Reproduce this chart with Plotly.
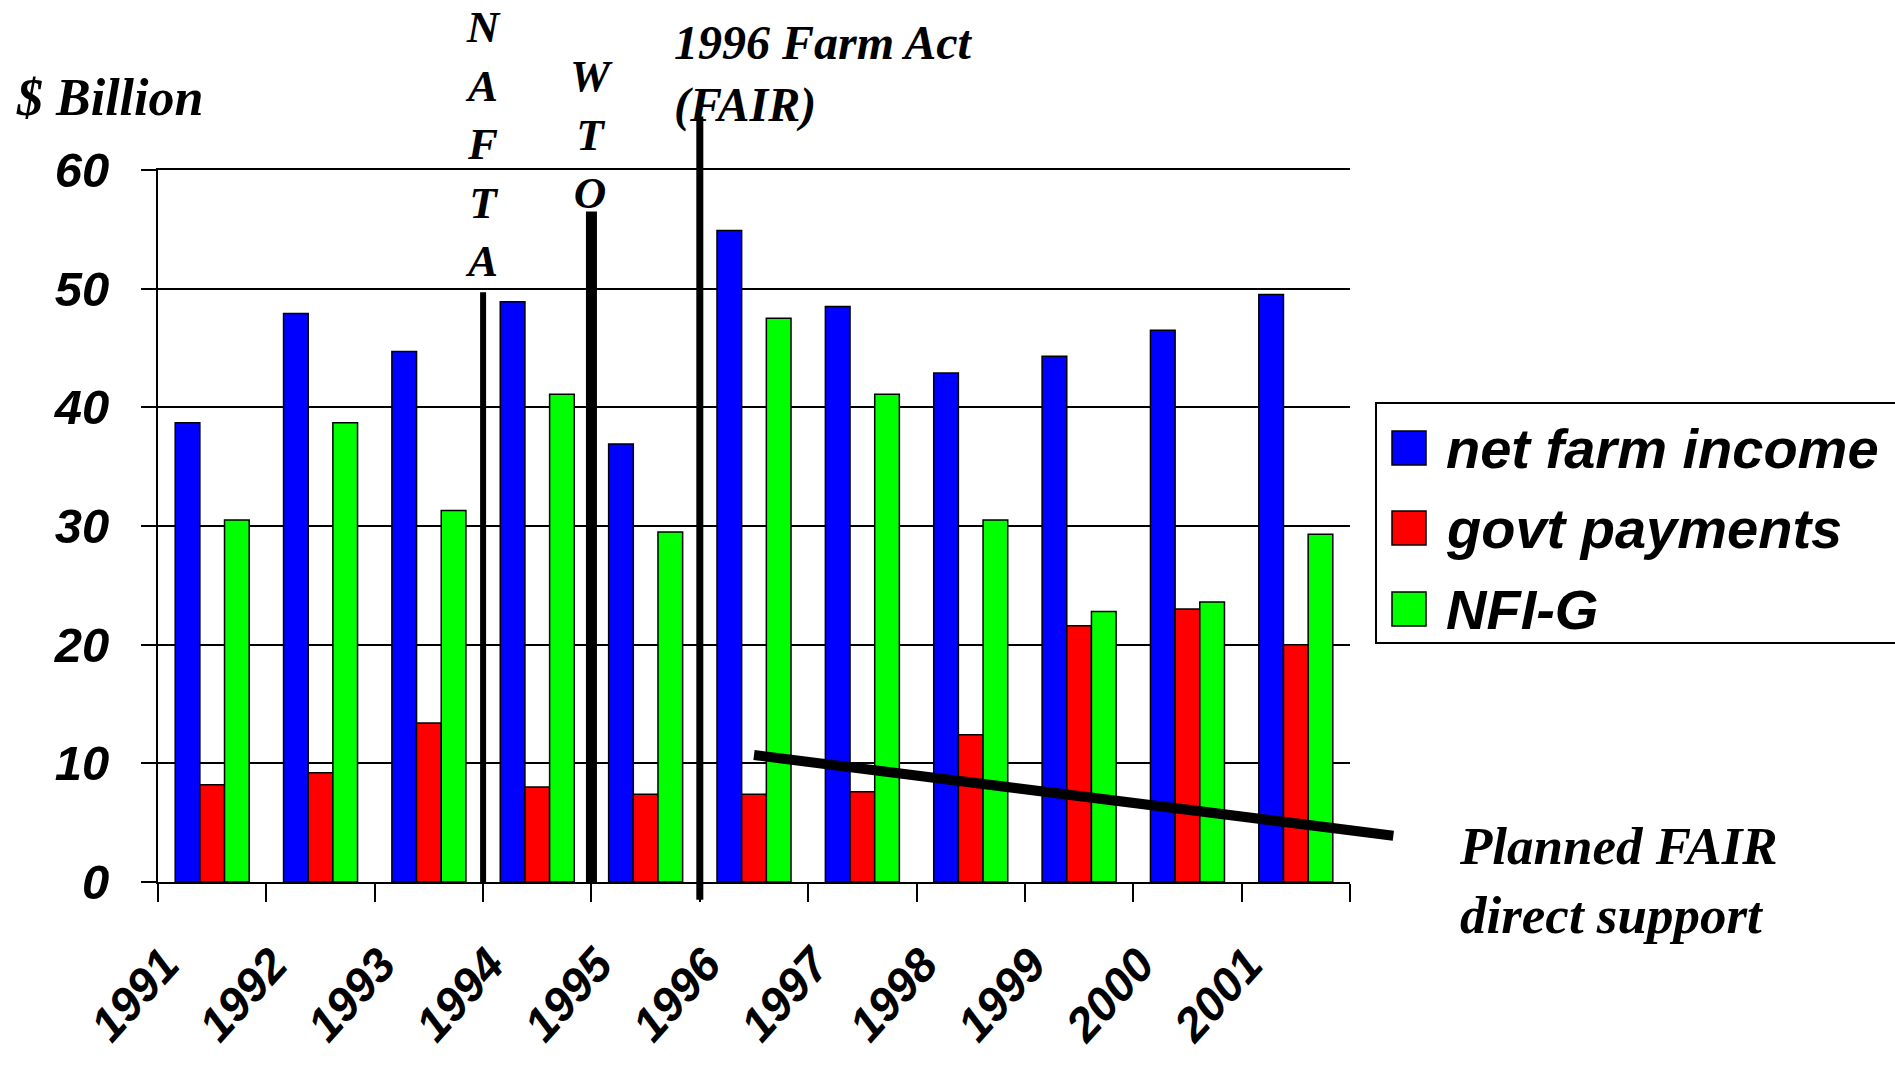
import plotly.graph_objects as go

# ---- data ($ billion) ----
years = ["1991", "1992", "1993", "1994", "1995", "1996", "1997", "1998", "1999", "2000", "2001"]
net_farm_income = [38.7, 47.9, 44.7, 48.9, 36.9, 54.9, 48.5, 42.9, 44.3, 46.5, 49.5]
govt_payments = [8.2, 9.2, 13.4, 8.0, 7.4, 7.4, 7.6, 12.4, 21.6, 23.0, 20.0]
nfi_minus_g = [30.5, 38.7, 31.3, 41.1, 29.5, 47.5, 41.1, 30.5, 22.8, 23.6, 29.3]

series_names = ["net farm income", "govt payments", "NFI-G"]
series_colors = ["#0000FF", "#FF0000", "#00FF00"]

# policy events: position between years, top of marker line in $B, bottom
nafta_pos, nafta_top = 2.5, 49.7
wto_pos, wto_top = 3.5, 56.5
fair_pos, fair_top, fair_bottom = 4.5, 64.5, -1.5

# planned FAIR direct support trend (year, $B)
planned_years = [1996.0, 2001.9]
planned_values = [10.7, 3.9]

y_ticks = [0, 10, 20, 30, 40, 50, 60]

# ---- layout geometry ----
W, H = 1895, 1066
M_L, M_R, M_T, M_B = 158, 545, 170, 184
PLOT_W = W - M_L - M_R
PLOT_H = H - M_T - M_B
X_RANGE = [-0.5, len(years) - 0.5]
Y_RANGE = [0, 60]


def paper_x(px):
    return (px - M_L) / PLOT_W


def paper_y(py):
    return (H - M_B - py) / PLOT_H


def x_dom(v):
    return (v - X_RANGE[0]) / (X_RANGE[1] - X_RANGE[0])


def y_dom(v):
    return (v - Y_RANGE[0]) / (Y_RANGE[1] - Y_RANGE[0])


SANS = dict(family="Liberation Sans, Arial, sans-serif", weight="bold", style="italic", color="black")
SERIF = dict(family="Liberation Serif, Times New Roman, serif", weight="bold", style="italic", color="black")

fig = go.Figure()
for name, vals, col in zip(series_names, [net_farm_income, govt_payments, nfi_minus_g], series_colors):
    fig.add_trace(go.Bar(
        x=years, y=vals, name=name,
        marker=dict(color=col, line=dict(color="black", width=1.5)),
        showlegend=False,
    ))

shapes = []
# event marker lines
shapes.append(dict(type="line", xref="x", yref="y", x0=nafta_pos, x1=nafta_pos, y0=0, y1=nafta_top,
                   line=dict(color="black", width=6)))
shapes.append(dict(type="line", xref="x", yref="y", x0=wto_pos, x1=wto_pos, y0=0, y1=wto_top,
                   line=dict(color="black", width=11)))
shapes.append(dict(type="line", xref="x", yref="y domain", x0=fair_pos, x1=fair_pos,
                   y0=y_dom(fair_bottom), y1=y_dom(fair_top),
                   line=dict(color="black", width=7)))
# planned support trend line
px0 = planned_years[0] - int(years[0])
px1 = planned_years[1] - int(years[0])
shapes.append(dict(type="line", xref="x domain", yref="y", x0=x_dom(px0), x1=x_dom(px1),
                   y0=planned_values[0], y1=planned_values[1],
                   line=dict(color="black", width=10)))

# legend box with swatches
shapes.append(dict(type="rect", xref="paper", yref="paper",
                   x0=paper_x(1376), x1=paper_x(1910), y0=paper_y(643), y1=paper_y(403),
                   line=dict(color="black", width=2), fillcolor="white", layer="below"))
annotations = []
legend_rows = [448, 528, 609]
for name, col, yc in zip(series_names, series_colors, legend_rows):
    shapes.append(dict(type="rect", xref="paper", yref="paper",
                       x0=paper_x(1392), x1=paper_x(1426), y0=paper_y(yc + 17), y1=paper_y(yc - 17),
                       line=dict(color="black", width=1.5), fillcolor=col))
    annotations.append(dict(text=name, xref="paper", yref="paper", x=paper_x(1444), y=paper_y(yc),
                            xanchor="left", yanchor="middle", showarrow=False,
                            font=dict(size=56, **SANS)))

# text labels
annotations += [
    dict(text="$ Billion", xref="paper", yref="paper", x=paper_x(14), y=paper_y(97),
         xanchor="left", yanchor="middle", showarrow=False, font=dict(size=52, **SERIF)),
    dict(text="N<br>A<br>F<br>T<br>A", xref="x", yref="paper", x=nafta_pos, y=paper_y(144),
         xanchor="center", yanchor="middle", showarrow=False, font=dict(size=45, **SERIF)),
    dict(text="W<br>T<br>O", xref="x", yref="paper", x=wto_pos, y=paper_y(134),
         xanchor="center", yanchor="middle", showarrow=False, font=dict(size=45, **SERIF)),
    dict(text="1996 Farm Act<br>(FAIR)", xref="paper", yref="paper", x=paper_x(672), y=paper_y(74),
         xanchor="left", yanchor="middle", align="left", showarrow=False, font=dict(size=48, **SERIF)),
    dict(text="Planned FAIR<br>direct support", xref="paper", yref="paper", x=paper_x(1457), y=paper_y(880),
         xanchor="left", yanchor="middle", align="left", showarrow=False, font=dict(size=53, **SERIF)),
]

fig.update_layout(
    width=W, height=H,
    margin=dict(l=M_L, r=M_R, t=M_T, b=M_B, autoexpand=False),
    paper_bgcolor="white", plot_bgcolor="white",
    barmode="group", bargap=0.317, bargroupgap=0,
    shapes=shapes, annotations=annotations,
    xaxis=dict(
        type="category", range=X_RANGE, tickson="boundaries",
        ticks="outside", ticklen=18, tickwidth=2, tickcolor="black",
        showline=True, mirror=True, linecolor="black", linewidth=2, showgrid=False,
        tickangle=-48, tickfont=dict(size=47, **SANS),
        ticklabelshift=-48, ticklabelstandoff=34,
    ),
    yaxis=dict(
        range=Y_RANGE, tickvals=y_ticks,
        ticks="outside", ticklen=15, tickwidth=2, tickcolor="black",
        showline=True, linecolor="black", linewidth=2,
        showgrid=True, gridcolor="black", gridwidth=2, zeroline=False,
        tickfont=dict(size=49, **SANS), ticklabelstandoff=22,
    ),
)

fig.write_html("out.html")
